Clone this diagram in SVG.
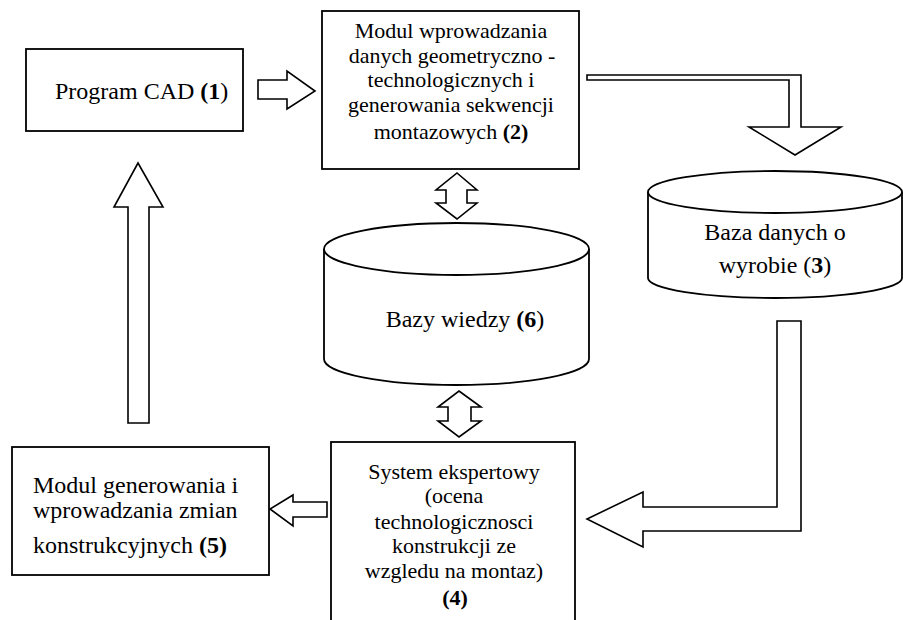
<svg xmlns="http://www.w3.org/2000/svg" width="903" height="620" viewBox="0 0 903 620" font-family="'Liberation Serif', 'Times New Roman', Times, serif">
<style>
.box{fill:#fff;stroke:#000;stroke-width:1.8}
.cyl{fill:#fff;stroke:#000;stroke-width:1.8}
.arr{fill:#fff;stroke:#000;stroke-width:1.6;stroke-linejoin:miter}
.tx{font-family:'Liberation Serif','Times New Roman',Times,serif;fill:#000}
.t22{font-size:22px}
.t24{font-size:24px}
.c{text-anchor:middle}
.b{font-weight:bold}
</style>
<rect width="903" height="620" fill="#fff"/>
<g id="connectors">
<polygon class="arr" points="258,80 287,80 287,71 315,91 287,109 287,99 258,99"/>
<polygon class="arr" points="587,75 801,75 801,127 841,127 795,155 749,127 789,127 789,80 587,80"/>
<polygon class="arr" points="457,173 477,190 467,190 467,203 477,203 457,219 436,203 446,203 446,190 436,190"/>
<polygon class="arr" points="459,391 481,407 471,407 471,421 481,421 459,437 438,421 448,421 448,407 438,407"/>
<polygon class="arr" points="777,321 801,321 801,531 643,531 643,547 587,519 643,492 643,507 777,507"/>
<polygon class="arr" points="327,502 293,502 293,495 270,509 293,526 293,517 327,517"/>
<polygon class="arr" points="128,423 128,207 114,207 138,163 163,207 149,207 149,423"/>
</g>
<g id="node1">
<rect class="box" x="26" y="49" width="217" height="82"/>
<text class="tx t24" x="55" y="99">Program CAD <tspan class="b">(1</tspan>)</text>
</g>
<g id="node2">
<rect class="box" x="322" y="11" width="257" height="158"/>
<text class="tx t22 c" x="451" y="38">Modul wprowadzania</text>
<text class="tx t22 c" x="452" y="63">danych geometryczno -</text>
<text class="tx t22 c" x="451" y="87">technologicznych i</text>
<text class="tx t22 c" x="451" y="112">generowania sekwencji</text>
<text class="tx t22 c" x="451" y="139">montazowych <tspan class="b">(2)</tspan></text>
</g>
<g id="node3">
<path class="cyl" d="M648,192 L648,278 A127,20 0 0 0 902,278 L902,192"/>
<ellipse class="cyl" cx="775" cy="192" rx="127" ry="21"/>
<text class="tx t24 c" x="775" y="240">Baza danych o</text>
<text class="tx t24 c" x="775" y="273">wyrobie (<tspan class="b">3</tspan>)</text>
</g>
<g id="node6">
<path class="cyl" d="M324,249 L324,359 A132.5,26 0 0 0 589,359 L589,249"/>
<ellipse class="cyl" cx="456.5" cy="249" rx="132.5" ry="26"/>
<text class="tx t24 c" x="465" y="327">Bazy wiedzy <tspan class="b">(6</tspan>)</text>
</g>
<g id="node4">
<rect class="box" x="331" y="442" width="244" height="190"/>
<text class="tx t22 c" x="454" y="479">System ekspertowy</text>
<text class="tx t22 c" x="454" y="503">(ocena</text>
<text class="tx t22 c" x="454" y="529">technologicznosci</text>
<text class="tx t22 c" x="454" y="553">konstrukcji ze</text>
<text class="tx t22 c" x="454" y="578">wzgledu na montaz)</text>
<text class="tx t22 c b" x="455" y="605">(4)</text>
</g>
<g id="node5">
<rect class="box" x="12" y="447" width="257" height="128"/>
<text class="tx t24" x="33" y="493">Modul generowania i</text>
<text class="tx t24" x="33" y="518">wprowadzania zmian</text>
<text class="tx t24" x="33" y="553">konstrukcyjnych <tspan class="b">(5)</tspan></text>
</g>
</svg>
